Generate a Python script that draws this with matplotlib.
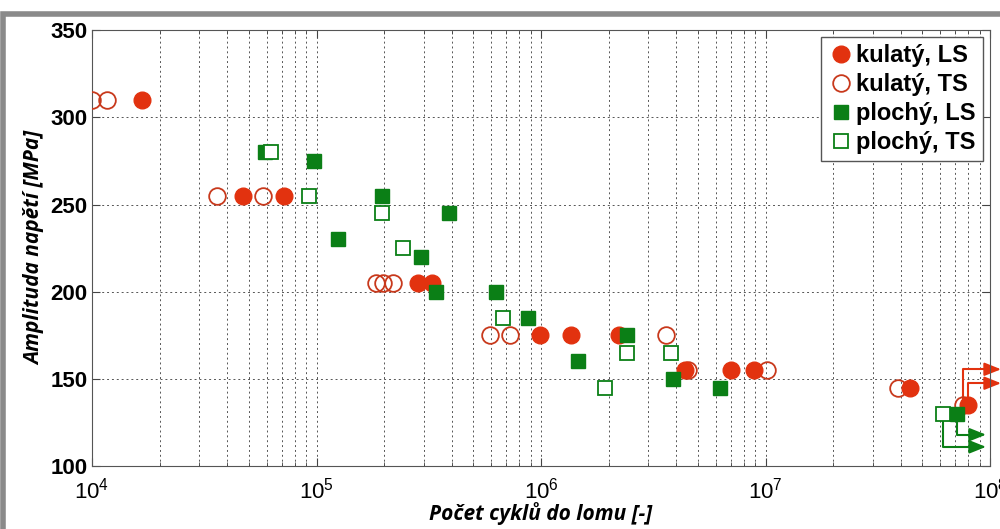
import matplotlib
matplotlib.use('Agg')
import matplotlib.pyplot as plt
from matplotlib import font_manager
from matplotlib.patches import Rectangle
from matplotlib.ticker import LogLocator, FixedLocator

names = {f.name for f in font_manager.fontManager.ttflist}
narrow = 'Liberation Sans Narrow' if 'Liberation Sans Narrow' in names else 'Liberation Sans'
plt.rcParams['font.family'] = [narrow, 'DejaVu Sans']
plt.rcParams['mathtext.fontset'] = 'custom'
plt.rcParams['mathtext.rm'] = narrow + ':bold'
plt.rcParams['mathtext.it'] = narrow + ':bold'
plt.rcParams['mathtext.bf'] = narrow + ':bold'

# kulatý, LS (plné kruhy)
kul_ls_n = [1.67e4, 4.7e4, 7.2e4, 2.83e5, 3.27e5, 9.9e5, 1.36e6, 2.23e6, 4.38e6, 7.0e6, 8.9e6, 4.4e7, 8.0e7]
kul_ls_s = [310, 255, 255, 205, 205, 175, 175, 175, 155, 155, 155, 145, 135]
# kulatý, TS (prázdné kruhy)
kul_ts_n = [1.0e4, 1.17e4, 3.6e4, 5.8e4, 1.84e5, 1.97e5, 2.19e5, 5.9e5, 7.3e5, 3.6e6, 4.5e6, 1.02e7, 3.9e7, 7.6e7]
kul_ts_s = [310, 310, 255, 255, 205, 205, 205, 175, 175, 175, 155, 155, 145, 135]
# plochý, LS (plné čtverce)
plo_ls_n = [5.9e4, 9.75e4, 1.95e5, 1.25e5, 3.9e5, 2.93e5, 3.4e5, 6.3e5, 8.75e5, 1.46e6, 2.42e6, 3.87e6, 6.27e6, 7.1e7]
plo_ls_s = [280, 275, 255, 230, 245, 220, 200, 200, 185, 160, 175, 150, 145, 130]
# plochý, TS (prázdné čtverce)
plo_ts_n = [6.3e4, 9.3e4, 1.95e5, 2.43e5, 6.8e5, 1.93e6, 2.42e6, 3.8e6, 6.2e7]
plo_ts_s = [280, 255, 245, 225, 185, 145, 165, 165, 130]

# šipky (run-out): start, výška ohybu
arrows_red = [(7.6e7, 135, 155.5), (8.0e7, 135, 147.5)]
arrows_green = [(7.1e7, 130, 118), (6.2e7, 130, 111)]

red = '#e2320f'
red_edge = '#c8391c'
green = '#0b7f16'

fig = plt.figure(figsize=(10, 5.29), dpi=100)
fig.patches.append(Rectangle((0.003, -0.2), 1.5, 1.174, transform=fig.transFigure,
                             fill=False, edgecolor='#8a8a8a', linewidth=4))
ax = fig.add_axes([0.092, 0.119, 0.898, 0.824])

ax.plot(kul_ts_n, kul_ts_s, 'o', ms=12, mfc='none', mec=red_edge, mew=1.3, ls='none', label='kulatý, TS', zorder=3)
ax.plot(kul_ls_n, kul_ls_s, 'o', ms=12, mfc=red, mec=red, ls='none', label='kulatý, LS', zorder=4)
ax.plot(plo_ls_n, plo_ls_s, 's', ms=10, mfc=green, mec=green, ls='none', label='plochý, LS', zorder=5)
ax.plot(plo_ts_n, plo_ts_s, 's', ms=10, mfc='white', mec=green, mew=1.3, ls='none', label='plochý, TS', zorder=6)

for arrs, col, xend in [(arrows_red, red, 1.12e8), (arrows_green, green, 9.6e7)]:
    for n0, s0, s1 in arrs:
        ax.plot([n0, n0, xend * 0.9], [s0, s1, s1], color=col, lw=1.5, clip_on=False, zorder=2)
        ax.annotate('', xy=(xend, s1), xytext=(xend * 0.88, s1),
                    arrowprops=dict(arrowstyle='-|>,head_length=1.0,head_width=0.4',
                                    color=col, lw=1.5, shrinkA=0, shrinkB=0),
                    annotation_clip=False, zorder=2)

ax.set_xscale('log')
ax.set_xlim(1e4, 1e8)
ax.set_ylim(100, 350)
ax.yaxis.set_major_locator(FixedLocator([100, 150, 200, 250, 300, 350]))
ax.xaxis.set_major_locator(LogLocator(base=10, numticks=10))
ax.xaxis.set_minor_locator(LogLocator(base=10, subs=range(2, 10), numticks=20))
ax.grid(True, which='both', axis='x', linestyle=(0, (2, 3)), color='#555555', lw=0.7)
ax.grid(True, which='major', axis='y', linestyle=(0, (2, 3)), color='#555555', lw=0.7)
ax.set_axisbelow(True)
ax.tick_params(which='both', direction='in', top=True, right=True, color='#444444')
ax.tick_params(which='major', length=6)
ax.tick_params(which='minor', length=3)
ax.tick_params(axis='x', labelsize=16, pad=8)
ax.tick_params(axis='y', labelsize=16, pad=3)
for lab in ax.get_yticklabels():
    lab.set_fontweight('bold')
for sp in ax.spines.values():
    sp.set_color('#555555')

ax.set_xlabel('Počet cyklů do lomu [-]', fontsize=15, style='italic', fontweight='bold',
              family=['Open Sans', 'DejaVu Sans'], labelpad=-1)
ax.set_ylabel('Amplituda napětí [MPa]', fontsize=15, style='italic', fontweight='bold',
              family=['Open Sans', 'DejaVu Sans'], labelpad=4)

h, l = ax.get_legend_handles_labels()
order = [1, 0, 2, 3]
leg = ax.legend([h[i] for i in order], [l[i] for i in order], loc='upper right',
                prop={'weight': 'bold', 'size': 17}, handletextpad=0.1, handlelength=1.1,
                borderpad=0.3, labelspacing=0.25, fancybox=False, framealpha=1,
                edgecolor='#555555', borderaxespad=0.3)
leg.get_frame().set_linewidth(1.0)

fig.savefig('out.png', dpi=100)
